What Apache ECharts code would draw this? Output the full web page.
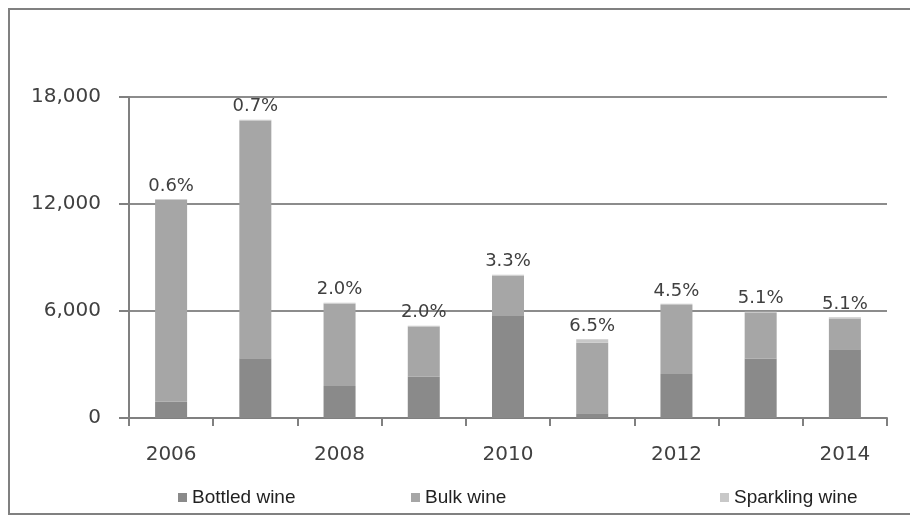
<!DOCTYPE html>
<html>
<head>
<meta charset="utf-8">
<script src="https://cdn.jsdelivr.net/npm/echarts@6/dist/echarts.min.js"></script>
<style>
    html, body { margin: 0; padding: 0; background: #fff; }
    #chart { width: 910px; height: 517px; }
</style>
</head>
<body>
<div id="chart"></div>
<script>
const years = ['2006', '2007', '2008', '2009', '2010', '2011', '2012', '2013', '2014'];
const bottled = [910, 3350, 1790, 2320, 5720, 260, 2470, 3330, 3850];
const bulk = [11330, 13330, 4620, 2810, 2250, 3960, 3860, 2560, 1730];
const sparkling = [40, 40, 50, 40, 60, 200, 70, 70, 70];
const shareLabels = ['0.6%', '0.7%', '2.0%', '2.0%', '3.3%', '6.5%', '4.5%', '5.1%', '5.1%'];

const chart = echarts.init(document.getElementById('chart'));
const axisFont = 'DejaVu Sans';

function legendAt(name, left) {
    return {
        data: [name],
        left: left,
        top: 483,
        itemWidth: 9,
        itemHeight: 9,
        itemGap: 6,
        icon: 'rect',
        textStyle: { fontFamily: 'Liberation Sans', fontSize: 19, color: '#222' }
    };
}

chart.setOption({
    animation: false,
    graphic: [{
        type: 'rect',
        shape: { x: 9, y: 9, width: 902, height: 505 },
        style: { fill: 'none', stroke: '#808080', lineWidth: 2 }
    }],
    legend: [
        legendAt('Bottled wine', 173),
        legendAt('Bulk wine', 406),
        legendAt('Sparkling wine', 715)
    ],
    grid: { left: 129, right: 23, top: 97, bottom: 99 },
    xAxis: {
        type: 'category',
        data: years,
        axisLine: { lineStyle: { color: '#808080', width: 2 } },
        axisTick: { show: true, interval: 0, length: 8, lineStyle: { color: '#808080', width: 2 } },
        axisLabel: {
            interval: 1,
            margin: 27,
            fontFamily: axisFont,
            fontSize: 20,
            color: '#404040'
        }
    },
    yAxis: {
        type: 'value',
        min: 0,
        max: 18000,
        interval: 6000,
        axisLine: { show: true, lineStyle: { color: '#808080', width: 2 } },
        axisTick: { show: true, length: 10, lineStyle: { color: '#808080', width: 2 } },
        splitLine: { lineStyle: { color: '#8c8c8c', width: 2 } },
        axisLabel: {
            margin: 28,
            fontFamily: axisFont,
            fontSize: 20,
            color: '#404040',
            formatter: v => v.toLocaleString('en-US')
        }
    },
    series: [
        {
            name: 'Bottled wine',
            type: 'bar',
            stack: 'wine',
            barWidth: '38%',
            itemStyle: { color: '#8a8a8a' },
            data: bottled
        },
        {
            name: 'Bulk wine',
            type: 'bar',
            stack: 'wine',
            itemStyle: { color: '#a6a6a6' },
            data: bulk
        },
        {
            name: 'Sparkling wine',
            type: 'bar',
            stack: 'wine',
            itemStyle: { color: '#c8c8c8' },
            label: {
                show: true,
                position: 'top',
                distance: 4,
                fontFamily: axisFont,
                fontSize: 18,
                color: '#404040',
                formatter: p => shareLabels[p.dataIndex]
            },
            data: sparkling
        }
    ]
});
</script>
</body>
</html>
